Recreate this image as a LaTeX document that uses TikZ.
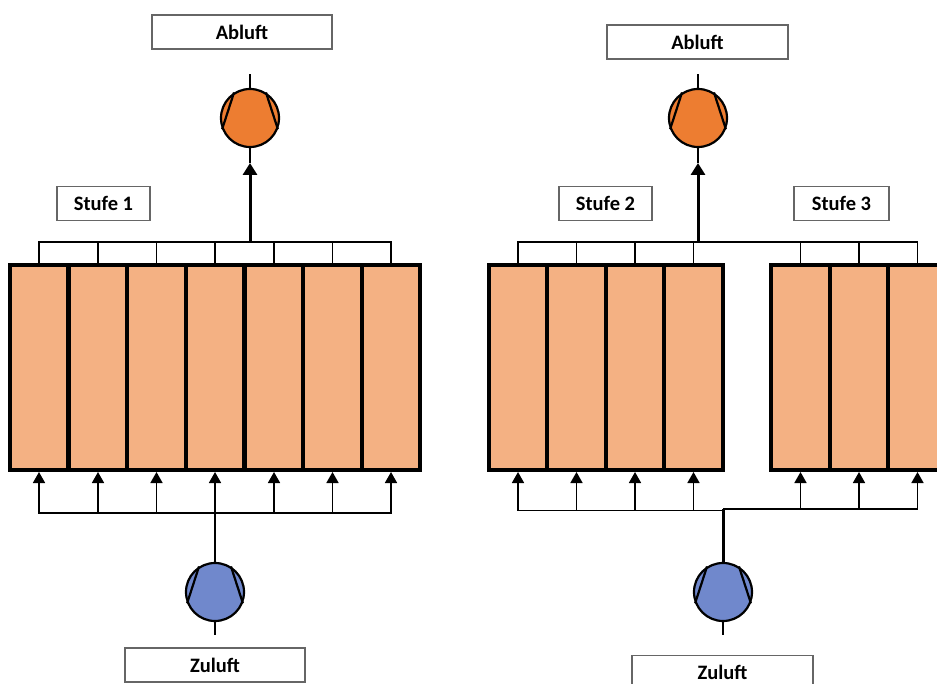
\documentclass[tikz,border=0pt]{standalone}
\usepackage{fontspec}
\setmainfont{Carlito}
\usetikzlibrary{arrows.meta}

\definecolor{cellfill}{HTML}{F4B183}
\definecolor{fanout}{HTML}{ED7D31}
\definecolor{fanin}{HTML}{7088CC}

\begin{document}
\begin{tikzpicture}[x=1pt,y=-1pt,>={Triangle[length=11pt,width=12pt]},line width=1.7pt,
  cell/.style={rectangle,draw,line width=4pt,fill=cellfill,minimum width=58.6pt,minimum height=205pt,inner sep=0pt},
  label box/.style={rectangle,draw=black!60,line width=1.2pt,fill=white,minimum height=34pt,inner sep=0pt,font=\bfseries\fontsize{20.5}{22}\selectfont},
  fan/.style={circle,draw,line width=2.2pt,minimum size=58pt,inner sep=0pt}]
  \clip (0,0) rectangle (937,684);

  % cells
  \foreach \i/\x in {1/39,2/98,3/156.5,4/215,5/274,6/332.5,7/391}
    \node[cell] (a\i) at (\x,367.5) {};
  \foreach \i/\x in {1/518,2/576.5,3/635,4/693.5}
    \node[cell] (b\i) at (\x,367.5) {};
  \foreach \i/\x in {1/800.5,2/859,3/917.5}
    \node[cell] (c\i) at (\x,367.5) {};

  % fans
  \node[fan,fill=fanout] (outA) at (250,118) {};
  \node[fan,fill=fanout] (outB) at (698,118) {};
  \node[fan,fill=fanin] (inA) at (215,592) {};
  \node[fan,fill=fanin] (inB) at (723,592) {};
  \foreach \f in {outA,outB,inA,inB}
    \draw[line width=2.2pt] (\f.122) -- (\f.202) (\f.58) -- (\f.-22);

  % labels
  \node[label box,minimum width=180pt] (ablA) at (242,32) {Abluft};
  \node[label box,minimum width=181pt] (ablB) at (697.5,42) {Abluft};
  \node[label box,minimum width=93pt] (st1) at (103.5,203.5) {Stufe 1};
  \node[label box,minimum width=93pt] (st2) at (605.5,203.5) {Stufe 2};
  \node[label box,minimum width=95pt] (st3) at (841.5,203.5) {Stufe 3};
  \node[label box,minimum width=180pt] (zulA) at (215,665) {Zuluft};
  \node[label box,minimum width=181pt] (zulB) at (722.5,672.5) {Zuluft};

  % junctions and free ends
  \coordinate (topA) at (250,242);
  \coordinate (topB) at (698,242);
  \coordinate (tipA) at (250,163);
  \coordinate (tipB) at (698,163);
  \coordinate (endA) at (250,74);
  \coordinate (endB) at (698,74);
  \coordinate (botA) at (215,513);
  \coordinate (botB) at (723,510.5);
  \coordinate (botC) at (723,509);
  \coordinate (lowA) at (215,635);
  \coordinate (lowB) at (723,635);

  % manifolds
  \foreach \i in {1,...,7} {
    \draw (a\i.north) |- (topA);
    \draw[->] (botA) -| (a\i.south);
  }
  \foreach \i in {1,...,4} {
    \draw (b\i.north) |- (topB);
    \draw[->] (botB) -| (b\i.south);
  }
  \foreach \i in {1,2,3} {
    \draw (c\i.north) |- (topB);
    \draw[->] (botC) -| (c\i.south);
  }

  % main lines
  \draw[->,line width=3pt,>={Triangle[length=12pt,width=14pt]}] (topA) -- (tipA);
  \draw[->,line width=3pt,>={Triangle[length=12pt,width=14pt]}] (topB) -- (tipB);
  \draw (tipA) -- (outA.south);
  \draw (tipB) -- (outB.south);
  \draw (outA.north) -- (endA);
  \draw (outB.north) -- (endB);
  \draw[line width=2.2pt] (botA) -- (inA.north);
  \draw[line width=3pt] (botC) -- (inB.north);
  \draw (inA.south) -- (lowA);
  \draw (inB.south) -- (lowB);
\end{tikzpicture}
\end{document}
